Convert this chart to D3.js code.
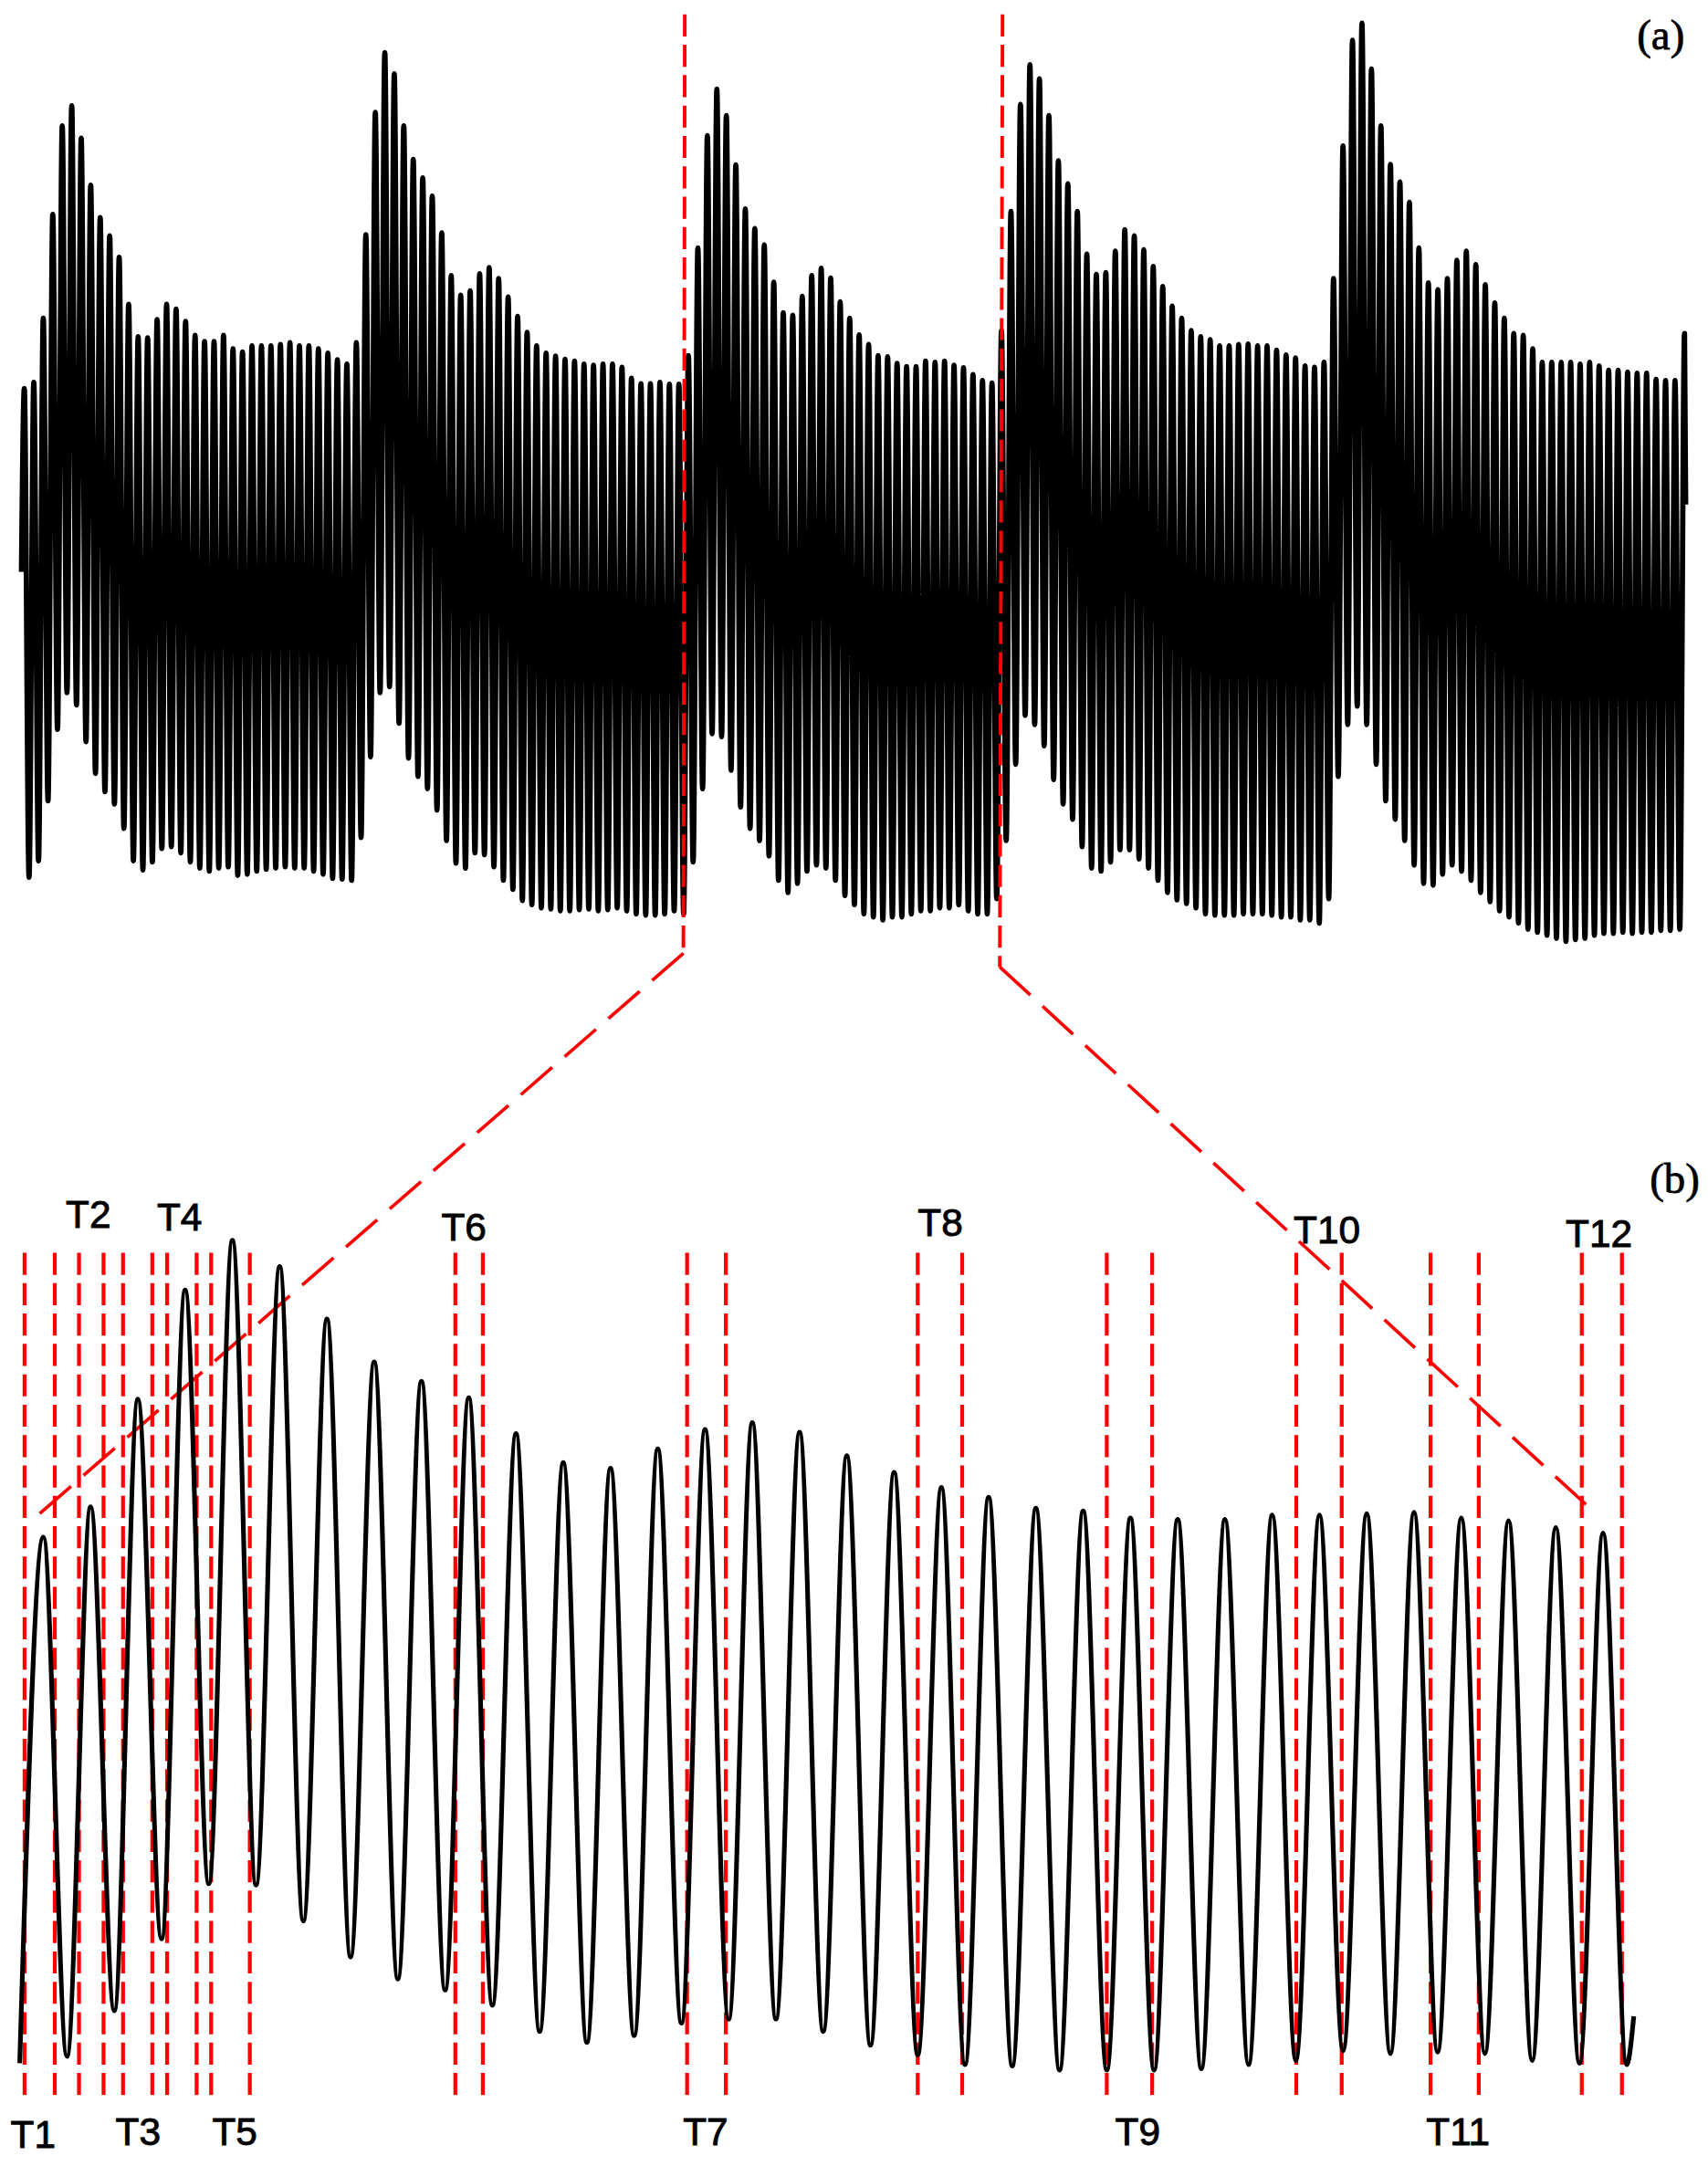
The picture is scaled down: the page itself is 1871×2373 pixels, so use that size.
<!DOCTYPE html>
<html><head><meta charset="utf-8">
<script src="https://cdn.jsdelivr.net/npm/d3@7"></script>
<style>html,body{margin:0;padding:0;background:#fff;}</style>
</head><body>
<svg id="chart" width="1871" height="2373" viewBox="0 0 1237 1568"></svg>
<script>
// ---------- Panel (a): per-cycle extrema (signal units) ----------
const peaksA = [
 965,975,1080,1250,1395,1428,1375,1298,1245,1215,1180,1103,1050,1048,1078,1103,1095,1075,1052,1042,1042,1052,1030,1025,1035,1035,1035,1037,1040,1035,1035,1030,1023,1012,1005,1040,
 1217,1417,1515,1480,1395,1340,1310,1280,1220,1150,1118,1125,1153,1163,1145,1115,1083,1057,1035,1023,1018,1013,1010,1005,1003,1005,1005,1000,982,973,973,975,972,972,
 1019,1195,1379,1455,1412,1331,1259,1227,1200,1139,1089,1085,1116,1150,1162,1146,1107,1080,1053,1037,1019,1017,1006,1001,1001,1010,1008,1010,1003,999,988,978,974,
 1060,1255,1430,1495,1472,1412,1338,1300,1255,1185,1152,1155,1190,1225,1215,1192,1165,1132,1100,1080,1060,1050,1045,1035,1035,1037,1038,1035,1035,1028,1020,1015,1002,1000,1008,
 1145,1362,1535,1563,1488,1395,1332,1303,1270,1195,1138,1127,1145,1175,1190,1168,1135,1105,1080,1055,1052,1030,1008,1008,1008,1008,1005,1008,1002,995,995,992,990,990,980,978,978,1055
];
const troughsA = [
 165,192,290,407,467,447,387,335,305,285,245,192,177,190,212,215,205,190,180,175,180,182,168,170,175,178,180,182,180,180,175,170,163,162,160,230,
 362,467,477,417,360,330,310,275,225,188,180,205,202,182,160,145,127,120,115,113,110,110,112,113,110,112,115,110,105,103,103,105,110,105,
 190,310,400,395,340,280,245,225,200,160,140,155,175,185,180,160,135,120,105,100,95,100,100,105,110,110,115,115,120,110,105,105,130,
 225,350,430,415,380,325,285,260,215,180,175,190,210,210,195,180,160,140,128,122,115,105,103,103,103,105,105,105,103,100,100,95,95,90,130,
 330,415,445,415,350,290,260,225,185,155,152,170,185,175,160,140,125,110,100,90,80,75,70,65,60,63,65,70,73,73,75,73,75,75,78,78,80
];
const startA = 665, endA = 775;
const zoomWindowA = [69.62, 102.97]; // cycle positions of the zoomed window

// ---------- Panel (b): per-cycle extrema ----------
const peaksB = [487,509,587,666,702,683,645,614,600,588,562,541,537,551,565,570,563,546,534,523,516,508,506,501,500,500,503,503,504,505,501,499,494,490];
const troughsB = [111,144,196,236,235,209,183,167,159,148,129,121,126,135,138,138,129,119,112,105,104,101,101,101,102,105,108,115,113,114,113,108,106,105];
const startB = 106, endB = 140;
const markersB = [-0.397,0.242,0.754,1.274,1.686,2.305,2.618,3.243,3.550,4.368,8.717,9.299,13.62,14.44,18.50,19.44,22.50,23.46,26.51,27.47,29.35,30.37,32.55,33.40];
const labelsB = [
 {t:"T1",x:24,y:1555},{t:"T2",x:64,y:889},{t:"T3",x:100,y:1553},{t:"T4",x:130,y:891},
 {t:"T5",x:170,y:1553},{t:"T6",x:336,y:898},{t:"T7",x:511,y:1553},{t:"T8",x:681,y:895},
 {t:"T9",x:824,y:1553},{t:"T10",x:961,y:900},{t:"T11",x:1056,y:1553},{t:"T12",x:1158,y:903}
];

const svg = d3.select("#chart");

const xA = d3.scaleLinear().domain([0, 175]).range([17.6, 1220]);
const yA = d3.scaleLinear().domain([0, 1600]).range([708, 0]);
const xB = d3.scaleLinear().domain([0, 33]).range([31.4, 1161]);
const yB = d3.scaleLinear().domain([0, 800]).range([1600, 800]);

function buildPts(peaks, troughs, start, end, startT, endT) {
  const pts = [[startT, start]];
  peaks.forEach((p, i) => {
    pts.push([i, p]);
    if (i < troughs.length) pts.push([i + 0.5, troughs[i]]);
  });
  pts.push([endT, end]);
  return pts;
}
const ptsA = buildPts(peaksA, troughsA, startA, endA, -0.3, 175.12);
const ptsB = [[-0.5, startB]];
peaksB.forEach((p, i) => { ptsB.push([i, p]); ptsB.push([i + 0.5, troughsB[i]]); });
ptsB.push([33.65, endB]);

const lineA = d3.line().x(d => xA(d[0])).y(d => yA(d[1])).curve(d3.curveMonotoneX);
const lineB = d3.line().x(d => xB(d[0])).y(d => yB(d[1])).curve(d3.curveMonotoneX);

svg.append("path").attr("d", lineA(ptsA)).attr("fill", "none")
  .attr("stroke", "#000").attr("stroke-width", 3.8).attr("stroke-linejoin", "round");

const red = "#ff0000";
const xl = xA(zoomWindowA[0]), xr = xA(zoomWindowA[1]);
svg.append("line").attr("x1", xl).attr("y1", 10).attr("x2", xl - 1).attr("y2", 690)
  .attr("stroke", red).attr("stroke-width", 2.6).attr("stroke-dasharray", "16,6");
svg.append("line").attr("x1", xr + 1).attr("y1", 10).attr("x2", xr - 1).attr("y2", 700)
  .attr("stroke", red).attr("stroke-width", 2.6).attr("stroke-dasharray", "16,6");
svg.append("line").attr("x1", xl - 1).attr("y1", 690).attr("x2", 24).attr("y2", 1100)
  .attr("stroke", red).attr("stroke-width", 2.4).attr("stroke-dasharray", "30,12");
svg.append("line").attr("x1", xr - 1).attr("y1", 700).attr("x2", 1157).attr("y2", 1097)
  .attr("stroke", red).attr("stroke-width", 2.4).attr("stroke-dasharray", "30,12");

svg.append("g").selectAll("line").data(markersB).join("line")
  .attr("x1", d => xB(d)).attr("x2", d => xB(d))
  .attr("y1", 907).attr("y2", 1521)
  .attr("stroke", red).attr("stroke-width", 2.8).attr("stroke-dasharray", "16,6");

svg.append("path").attr("d", lineB(ptsB)).attr("fill", "none")
  .attr("stroke", "#000").attr("stroke-width", 3.4).attr("stroke-linejoin", "round");

svg.append("g").selectAll("text").data(labelsB).join("text")
  .attr("x", d => d.x).attr("y", d => d.y).attr("text-anchor", "middle")
  .attr("font-family", "Liberation Sans, Arial, sans-serif").attr("font-size", 28)
  .attr("fill", "#000").attr("stroke", "#000").attr("stroke-width", 0.6).text(d => d.t);

svg.append("text").attr("x", 1220).attr("y", 35).attr("text-anchor", "end")
  .attr("font-family", "Liberation Serif, Times New Roman, serif").attr("font-size", 31)
  .attr("stroke", "#000").attr("stroke-width", 0.5).text("(a)");
svg.append("text").attr("x", 1231).attr("y", 864).attr("text-anchor", "end")
  .attr("font-family", "Liberation Serif, Times New Roman, serif").attr("font-size", 31)
  .attr("stroke", "#000").attr("stroke-width", 0.5).text("(b)");
</script>
</body></html>
